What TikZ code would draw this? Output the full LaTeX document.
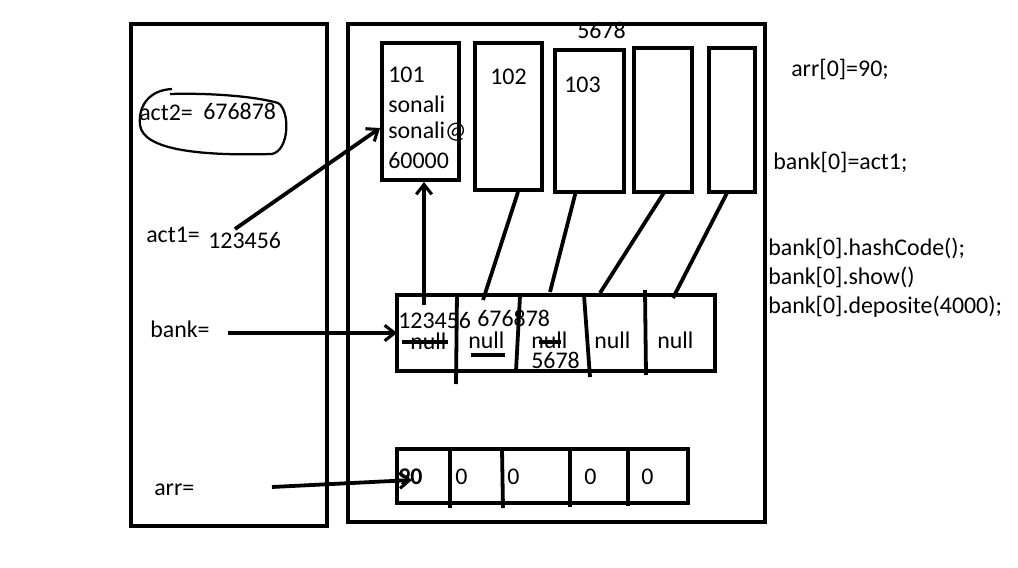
\documentclass[tikz,border=0pt]{standalone}
\usepackage{fontspec}
\setmainfont{Carlito}
\usetikzlibrary{arrows.meta}

\tikzset{
    box/.style={line width=2.9pt},
    wire/.style={line width=2.7pt},
    ptr/.style={line width=2.7pt, -{Straight Barb[length=7pt, width=11pt, line width=2.2pt]}},
    txt/.style={anchor=west, inner sep=0pt, font=\fontsize{17}{20}\selectfont},
}

\begin{document}
\begin{tikzpicture}[x=0.025cm, y=-0.025cm]

    \useasboundingbox (0, 0) rectangle (1018, 567);

    % Stack on the left, heap on the right
    \draw[box] (131, 24) rectangle (327, 526);
    \draw[box] (348, 24) rectangle (765, 522);

    % Objects
    \draw[box] (382, 43) rectangle (459, 180);
    \draw[box] (475, 43) rectangle (542, 190);
    \draw[box] (555, 50) rectangle (624, 192);
    \draw[box] (634, 48) rectangle (692, 192);
    \draw[box] (709, 48) rectangle (755, 192);

    \node[txt] (id1) at (388, 75) {101};
    \node[txt] (name1) at (388, 104) {sonali};
    \node[txt] (mail1) at (388, 132) {sonali@};
    \node[txt] (bal1) at (388, 161) {60000};
    \node[txt] (id2) at (490, 77) {102};
    \node[txt] (id3) at (564, 85) {103};
    \node[txt] (ref3) at (577, 30) {5678};

    % bank array
    \draw[box] (397, 295) rectangle (715, 371);
    \draw[wire] (457, 293) -- (456, 384);
    \draw[wire] (520, 296) -- (516, 371);
    \draw[wire] (584, 295) -- (590, 377);
    \draw[wire] (645, 290) -- (646, 375);

    \node[txt] (ref1) at (398, 321) {123456};
    \node[txt] (null1) at (410, 341) {null};
    \node[txt] (ref2) at (477, 318) {676878};
    \node[txt] (null2) at (468, 340) {null};
    \node[txt] (null3) at (531, 340) {null};
    \node[txt] (ref3b) at (531, 360) {5678};
    \node[txt] (null4) at (594, 340) {null};
    \node[txt] (null5) at (657, 340) {null};

    \draw[wire] (null1.west) ++(-8, 1) -- ++(46, 0);
    \draw[wire] (null2.south west) ++(3, 6) -- ++(34, 0);
    \draw[wire] (null3.west) ++(8, 2) -- ++(22, 0);

    % arr array
    \draw[box] (397, 449) rectangle (688, 503);
    \draw[wire] (450, 449) -- (450, 508);
    \draw[wire] (502, 449) -- (503, 508);
    \draw[wire] (570, 449) -- (570, 507);
    \draw[wire] (628, 449) -- (628, 506);

    \node[txt] (a0) at (398, 477) {\textbf{90}};
    \node[txt] (a1) at (455, 477) {0};
    \node[txt] (a2) at (507, 477) {0};
    \node[txt] (a3) at (584, 477) {0};
    \node[txt] (a4) at (641, 477) {0};

    % Variables on the stack
    \node[txt] (act2) at (139, 113) {act2=};
    \node[txt] (act2v) at (203, 111) {676878};
    \node[txt] (act1) at (146, 235) {act1=};
    \node[txt] (act1v) at (208, 241) {123456};
    \node[txt] (bank) at (150, 329) {bank=};
    \node[txt] (arr) at (154, 490) {arr=};

    \draw[line width=1.6pt] (172, 89) .. controls (150, 90) and (138, 105) .. (140, 125)
        .. controls (143, 150) and (200, 156) .. (272, 154)
        .. controls (290, 150) and (290, 110) .. (278, 103)
        .. controls (250, 95) and (200, 93) .. (170, 94);

    % Code on the right
    \node[txt] (c1) at (791, 69) {arr[0]=90;};
    \node[txt] (c2) at (773, 162) {bank[0]=act1;};
    \node[txt] (c3) at (768, 248) {bank[0].hashCode();};
    \node[txt] (c4) at (768, 277) {bank[0].show()};
    \node[txt] (c5) at (768, 307) {bank[0].deposite(4000);};

    % References
    \coordinate (act1p) at (235, 229);
    \coordinate (obj1w) at (380, 128);
    \coordinate (bankp) at (228, 333);
    \coordinate (bank0) at (397, 333);
    \coordinate (arrp) at (272, 487);
    \coordinate (arr0) at (412, 480);
    \coordinate (cell0) at (424, 305);
    \coordinate (obj1s) at (424, 182);

    \draw[ptr] (act1p) -- (obj1w);
    \draw[ptr] (bankp) -- (bank0);
    \draw[ptr] (arrp) -- (arr0);
    \draw[ptr] (cell0) -- (obj1s);

    \draw[wire] (518, 192) -- (483, 300);
    \draw[wire] (576, 191) -- (550, 292);
    \draw[wire] (665, 191) -- (600, 293);
    \draw[wire] (728, 191) -- (673, 298);

\end{tikzpicture}
\end{document}
